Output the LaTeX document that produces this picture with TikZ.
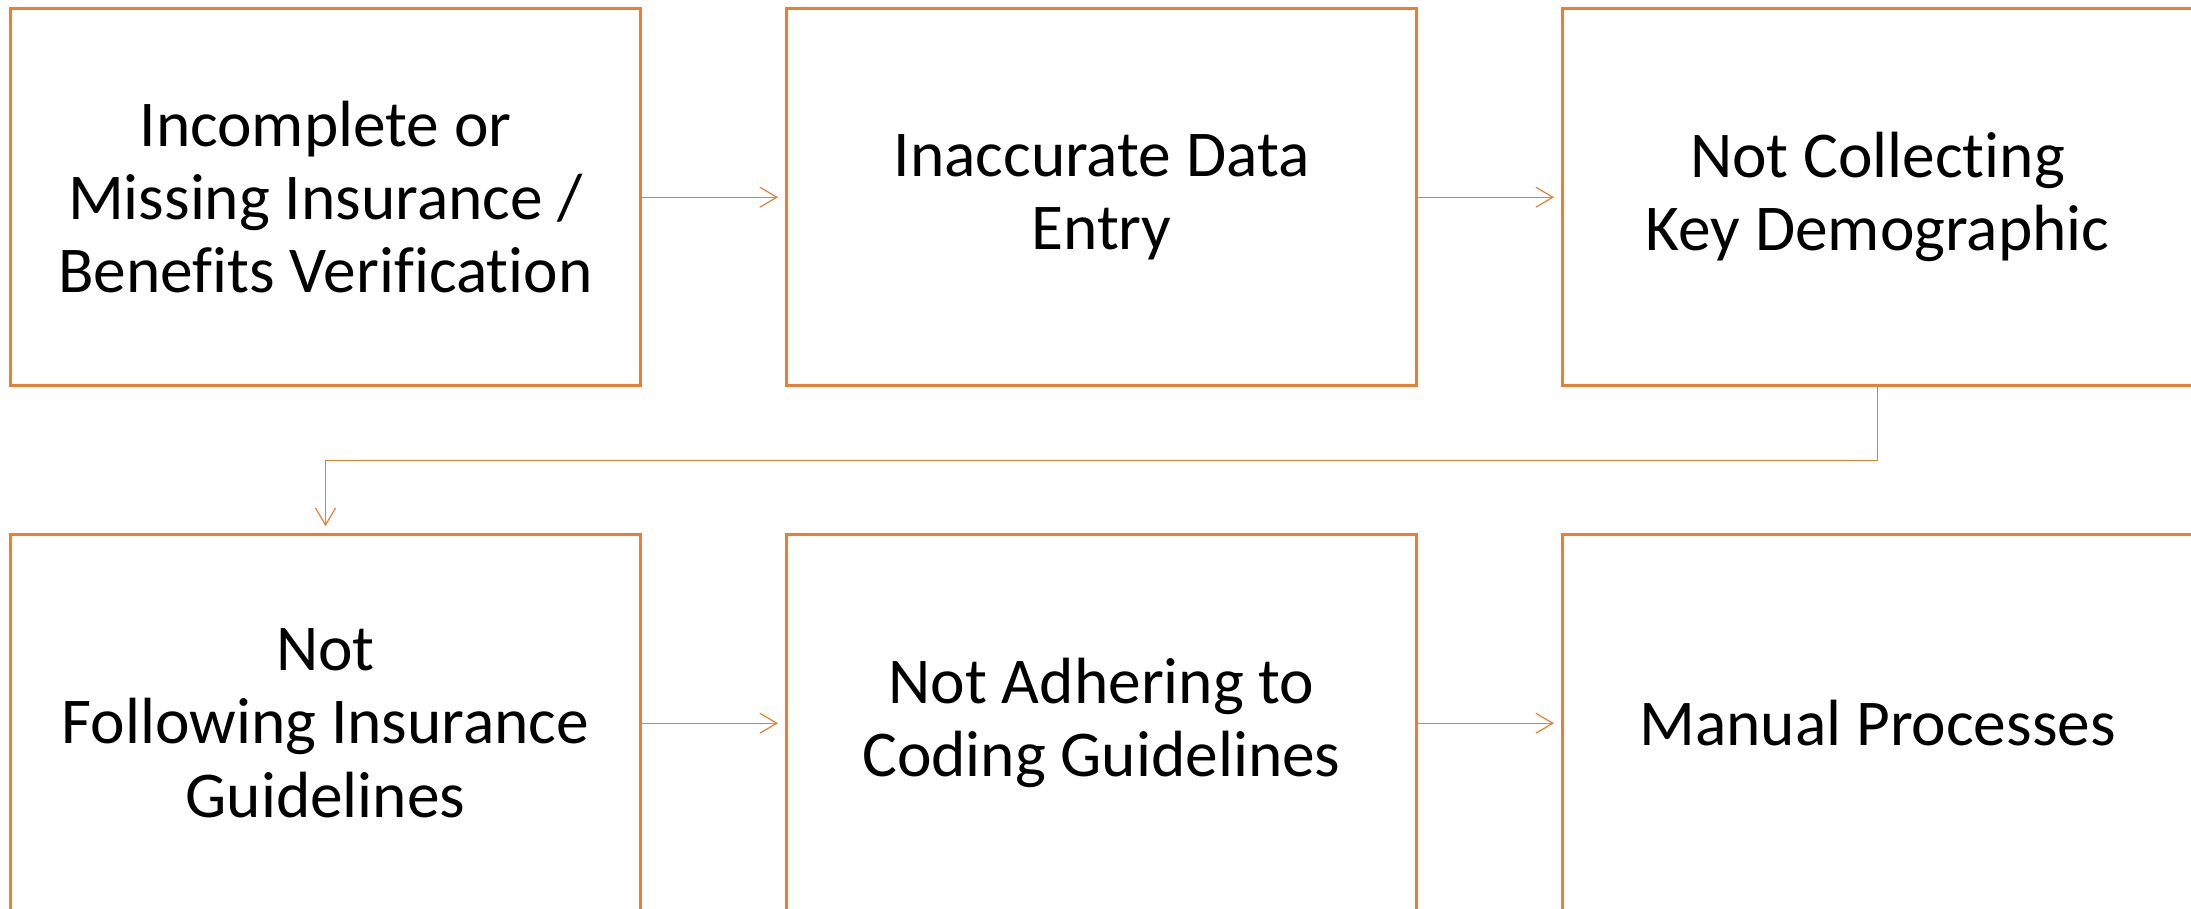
\documentclass[tikz,border=0pt]{standalone}
\usepackage{fontspec}
\setmainfont[Ligatures={NoCommon,NoRequired}]{Carlito}
\usepackage{tikz}
\usetikzlibrary{arrows.meta,positioning}
\usepackage{xcolor}
\definecolor{causeorange}{RGB}{237,125,49}
\tikzset{
  causebox/.style={draw=causeorange,line width=0.03cm,fill=white,align=center,
                   minimum width=6.3cm,minimum height=3.77cm,inner sep=0pt,
                   font=\fontsize{18.6pt}{20.8pt}\selectfont},
  flowarrow/.style={-{Straight Barb[length=1.7mm,width=2mm]},causeorange,
                    line width=0.012cm,shorten >=0.07cm},
}

\begin{document}
\begin{tikzpicture}
    \useasboundingbox (0,0) rectangle (21.91,-9.08);
    \clip (0,0) rectangle (21.91,-9.08);
    % top row
    \node[causebox] (insurance) at (3.255,-1.972) {Incomplete or\\Missing Insurance /\\Benefits Verification};
    \node[causebox,right=1.43cm of insurance] (dataentry) {Inaccurate Data\\Entry};
    \node[causebox,right=1.43cm of dataentry] (demographic) {Not Collecting\\Key Demographic};
    % bottom row
    \node[causebox,below=1.46cm of insurance] (payer) {Not\\Following Insurance\\Guidelines};
    \node[causebox,right=1.43cm of payer] (coding) {Not Adhering to\\Coding Guidelines};
    \node[causebox,right=1.43cm of coding] (manual) {Manual Processes};
    \draw[flowarrow] (insurance) -- (dataentry);
    \draw[flowarrow] (dataentry) -- (demographic);
    \draw[flowarrow] (demographic.south) -- ++(0,-0.73) -| (payer.north);
    \draw[flowarrow] (payer) -- (coding);
    \draw[flowarrow] (coding) -- (manual);
  \end{tikzpicture}
\end{document}
